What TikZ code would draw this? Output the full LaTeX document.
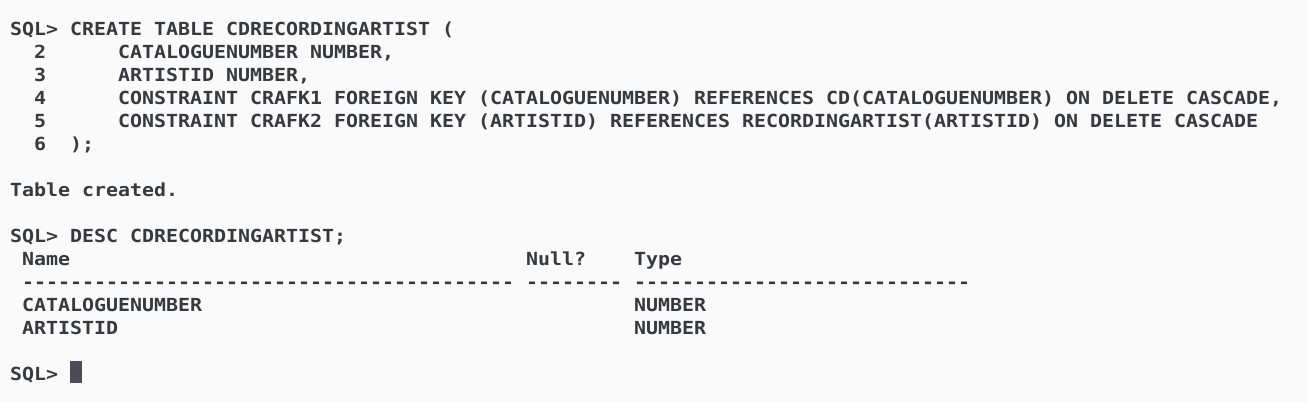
\documentclass[tikz,border=0pt]{standalone}
\usepackage{fontspec}
\setmonofont{DejaVu Sans Mono}[FakeStretch=1.1074]
\definecolor{termbg}{HTML}{FAFAFA}
\definecolor{termfg}{HTML}{383840}
\definecolor{cursorc}{HTML}{4B4B55}
\begin{document}
\frenchspacing
\begin{tikzpicture}[x=1bp,y=-1bp,
  txt/.style={anchor=base west,inner sep=0pt,outer sep=0pt,text=termfg,
    font=\fontsize{18bp}{23bp}\ttfamily\bfseries},
  cursorbox/.style={anchor=north west,inner sep=0pt,outer sep=0pt,fill=cursorc,
    minimum width=12bp,minimum height=22bp}]
\fill[termbg] (0,0) rectangle (1308,402);
\useasboundingbox (0,0) rectangle (1308,402);
% column c -> x = 10 + 12 c
\node[txt] (l1) at (10,35) {SQL> CREATE TABLE CDRECORDINGARTIST (};
\node[txt] (n2) at (34,58) {2};
\node[txt] (l2) at (118,58) {CATALOGUENUMBER NUMBER,};
\node[txt] (n3) at (34,81) {3};
\node[txt] (l3) at (118,81) {ARTISTID NUMBER,};
\node[txt] (n4) at (34,104) {4};
\node[txt] (l4) at (118,104) {CONSTRAINT CRAFK1 FOREIGN KEY (CATALOGUENUMBER) REFERENCES CD(CATALOGUENUMBER) ON DELETE CASCADE,};
\node[txt] (n5) at (34,127) {5};
\node[txt] (l5) at (118,127) {CONSTRAINT CRAFK2 FOREIGN KEY (ARTISTID) REFERENCES RECORDINGARTIST(ARTISTID) ON DELETE CASCADE};
\node[txt] (n6) at (34,150) {6};
\node[txt] (l6) at (70,150) {);};
\node[txt] (l8) at (10,196) {Table created.};
\node[txt] (l10) at (10,242) {SQL> DESC CDRECORDINGARTIST;};
\node[txt] (hname) at (22,265) {Name};
\node[txt] (hnull) at (526,265) {Null?};
\node[txt] (htype) at (634,265) {Type};
\node[txt] (d1) at (22,288) {-----------------------------------------};
\node[txt] (d2) at (526,288) {--------};
\node[txt] (d3) at (634,288) {----------------------------};
\node[txt] (r1n) at (22,311) {CATALOGUENUMBER};
\node[txt] (r1t) at (634,311) {NUMBER};
\node[txt] (r2n) at (22,334) {ARTISTID};
\node[txt] (r2t) at (634,334) {NUMBER};
\node[txt] (l16) at (10,380) {SQL>};
\node[cursorbox] (cur) at (70,361) {};
\end{tikzpicture}
\end{document}
